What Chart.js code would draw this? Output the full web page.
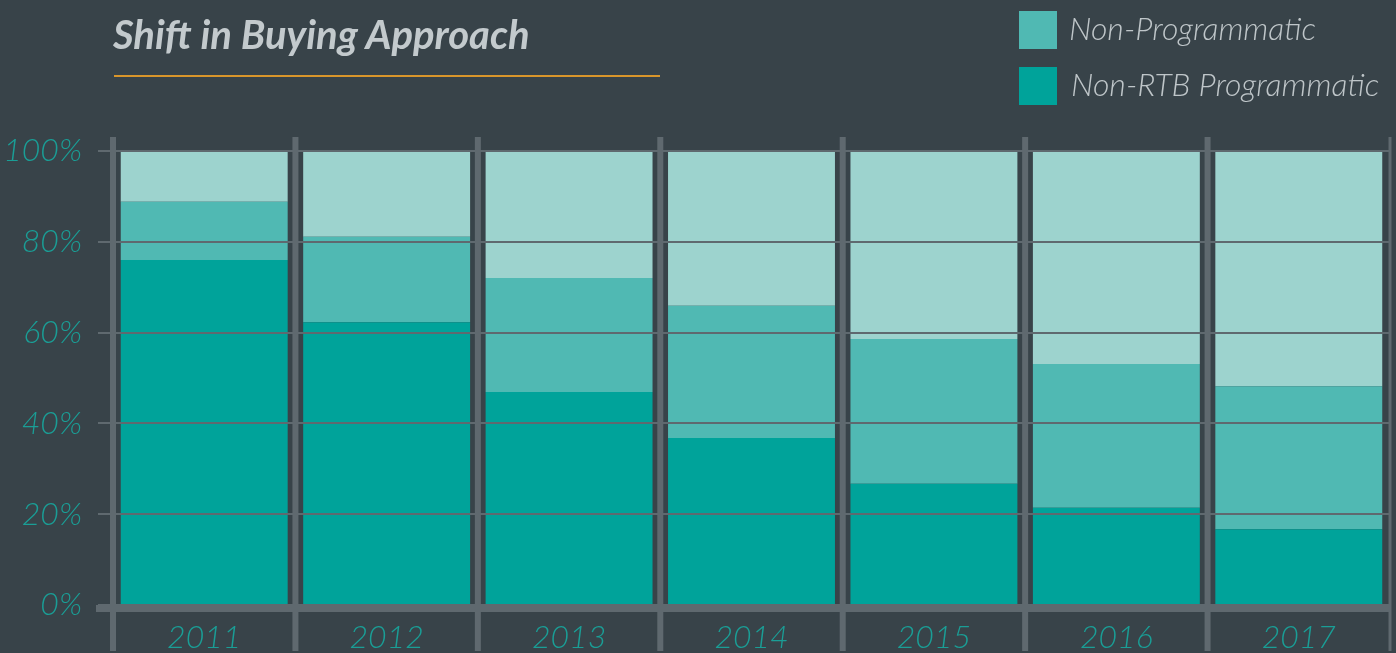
<!DOCTYPE html>
<html>
<head>
<meta charset="utf-8">
<script src="https://cdn.jsdelivr.net/npm/chart.js@4.4.0/dist/chart.umd.min.js"></script>
<style>
  html, body { margin: 0; padding: 0; background: #384349; }
  #wrap { position: relative; width: 1396px; height: 653px; overflow: hidden; }
  #title {
    position: absolute; left: 113px; top: 10px;
    font: italic 700 40px Lato, sans-serif; color: #c3cacd;
  }
  #rule { position: absolute; left: 114px; top: 75px; width: 546px; height: 2px; background: #d9962b; }
  .leg { position: absolute; left: 1019px; font: italic 300 32px Lato, sans-serif; color: #bfc6c9; }
  .leg i { position: absolute; left: 0; width: 38px; height: 38px; }
  .leg span { position: absolute; white-space: nowrap; }
  canvas { position: absolute; left: 0; top: 0; }
</style>
</head>
<body>
<div id="wrap">
  <canvas id="myChart" width="1396" height="653"></canvas>
  <div id="title">Shift in Buying Approach</div>
  <div id="rule"></div>
  <div class="leg" style="top:11px"><i style="background:#50b9b3"></i><span style="left:50px;top:-3px">Non-Programmatic</span></div>
  <div class="leg" style="top:67px"><i style="background:#00a39a"></i><span style="left:52px;top:-3px">Non-RTB Programmatic</span></div>
</div>
<script>
// data (percent of spend)
const years = ["2011", "2012", "2013", "2014", "2015", "2016", "2017"];
const nonRtbProgrammatic = [76.0, 62.3, 46.9, 36.8, 26.7, 21.4, 16.7];
const nonProgrammatic = [12.8, 18.8, 25.1, 29.1, 31.9, 31.7, 31.5];
const restShare = [11.2, 18.9, 28.0, 34.1, 41.4, 46.9, 51.8];
const yTicks = [0, 20, 40, 60, 80, 100];

const gray = "#5f696f";
const tickColor = "#1a9e96";

// grå avdelare mellan staplarna + tjock x-axel
const separators = {
  id: "separators",
  afterDatasetsDraw(chart) {
    const { ctx, chartArea, scales } = chart;
    const x = scales.x;
    const step = (chartArea.right - chartArea.left) / years.length;
    const y0 = scales.y.getPixelForValue(0);
    ctx.save();
    ctx.fillStyle = gray;
    for (let i = 0; i <= years.length; i++) {
      const bx = x.getPixelForValue(0) - step / 2 + i * step;
      const w = i === years.length ? 3 : 6;
      ctx.fillRect(bx - w / 2, chartArea.top - 14, w, 653 - chartArea.top + 12);
    }
    ctx.fillRect(96, y0, chartArea.right - 96, 7);
    ctx.restore();
  },
};

const ctx = document.querySelector("#myChart").getContext("2d");
const myChart = new Chart(ctx, {
  type: "bar",
  data: {
    labels: years,
    datasets: [
      { label: "Non-RTB Programmatic", data: nonRtbProgrammatic, backgroundColor: "#00a39a" },
      { label: "Non-Programmatic", data: nonProgrammatic, backgroundColor: "#50b9b3" },
      { label: "Other", data: restShare, backgroundColor: "#9dd3ce" },
    ],
  },
  options: {
    responsive: false,
    animation: false,
    layout: { padding: { top: 151, right: 6, left: 0, bottom: 0 } },
    datasets: { bar: { categoryPercentage: 1, barPercentage: 0.915, borderWidth: 0 } },
    plugins: { legend: { display: false }, tooltip: { enabled: false } },
    scales: {
      x: {
        stacked: true,
        grid: { display: false, drawTicks: false },
        border: { display: false },
        ticks: {
          color: tickColor,
          font: { family: "Lato", size: 32, style: "italic", weight: 300 },
          padding: 13,
        },
        afterFit: (s) => { s.height = 48; },
      },
      y: {
        stacked: true,
        min: 0,
        max: 100,
        afterBuildTicks: (s) => { s.ticks = yTicks.map((v) => ({ value: v })); },
        grid: { color: gray, lineWidth: 2, tickLength: 15, z: 1 },
        border: { display: false },
        ticks: {
          color: tickColor,
          font: { family: "Lato", size: 32, style: "italic", weight: 300 },
          padding: 16,
          callback: (v) => v + "%",
        },
        afterFit: (s) => { s.width = 113; },
      },
    },
  },
  plugins: [separators],
});
</script>
</body>
</html>
